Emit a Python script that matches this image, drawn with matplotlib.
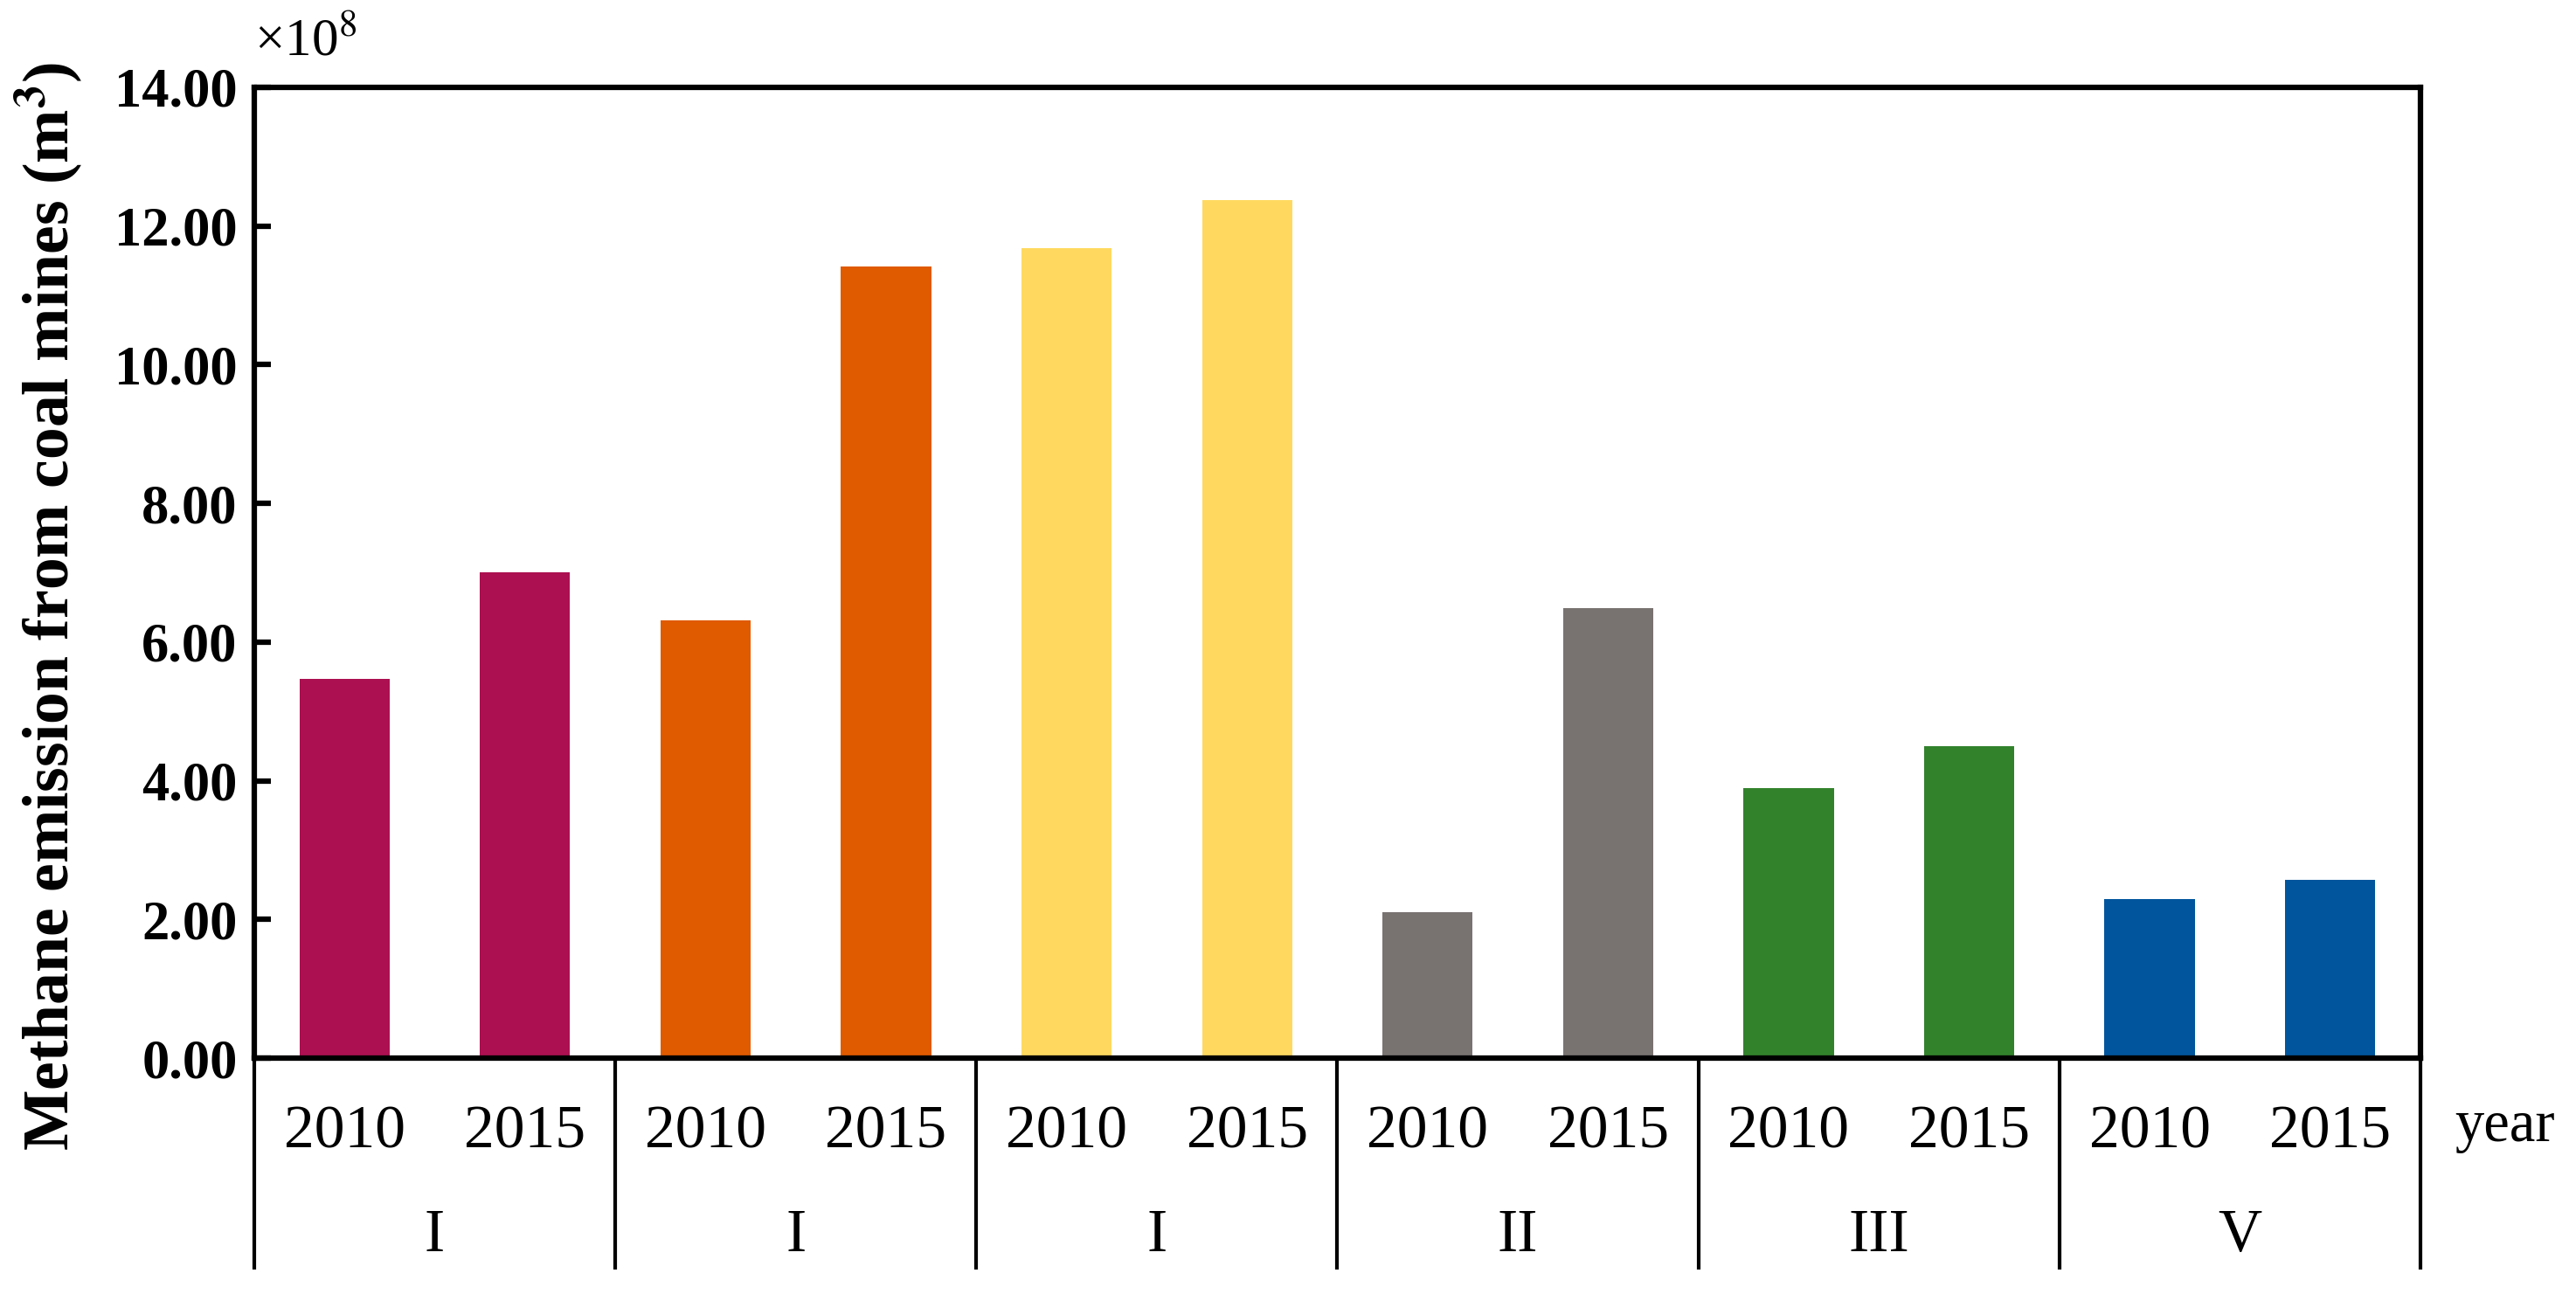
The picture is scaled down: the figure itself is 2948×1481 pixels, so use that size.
"""Methane emission from coal mines, grouped bar chart by region and year."""

import matplotlib
matplotlib.use("Agg")
import matplotlib.pyplot as plt
import numpy as np

plt.rcParams["font.family"] = ["Liberation Serif", "DejaVu Serif"]
plt.rcParams["mathtext.fontset"] = "stix"

years = ["2010", "2015"]
groups = ["I", "I", "I", "II", "III", "V"]
emissions = [5.47, 7.00, 6.31, 11.42, 11.68, 12.37, 2.10, 6.49, 3.89, 4.50, 2.29, 2.57]
group_colors = ["#AC1050", "#E05A00", "#FFD95F", "#787271", "#32822C", "#00559C"]
y_ticks = [0, 2, 4, 6, 8, 10, 12, 14]

n_years = len(years)
x = np.arange(len(emissions))
bar_colors = [c for c in group_colors for _ in range(n_years)]

fig = plt.figure(figsize=(29.48, 14.81), dpi=100)
ax = fig.add_axes([0.0987, 0.1823, 0.8409, 0.7502])

ax.bar(x, emissions, width=0.5, color=bar_colors, zorder=2)

ax.set_xlim(-0.5, len(emissions) - 0.5)
ax.set_ylim(0, 14)
ax.set_yticks(y_ticks)
ax.set_yticklabels([f"{v:.2f}" for v in y_ticks], fontsize=45, fontweight="bold")
ax.tick_params(axis="y", direction="in", length=14, width=4.5, pad=14)
ax.set_xticks([])
for spine in ax.spines.values():
    spine.set_linewidth(4.5)

# year labels and group labels below the axis
trans = ax.get_xaxis_transform()
for i, xi in enumerate(x):
    ax.text(xi, -0.077, years[i % n_years], transform=trans, ha="center",
            va="center", fontsize=50)
for g, name in enumerate(groups):
    ax.text(g * n_years + (n_years - 1) / 2, -0.184, name, transform=trans,
            ha="center", va="center", fontsize=50)

# separators between groups
for b in np.arange(-0.5, len(emissions), n_years):
    ax.plot([b, b], [0, -0.218], transform=trans, color="black", lw=3,
            clip_on=False, solid_capstyle="butt")

ax.text(1.016, -0.071, "year", transform=ax.transAxes, ha="left", va="center",
        fontsize=48)
ax.text(0.0, 1.046, "×10$^{8}$", transform=ax.transAxes, ha="left",
        va="center", fontsize=44)

fig.text(0.019, 0.531, "Methane emission from coal mines (m$^{\\mathbf{3}}$)",
         rotation=90, ha="center", va="center", fontsize=53, fontweight="bold")

fig.savefig("out.png", dpi=100)
plt.close(fig)
